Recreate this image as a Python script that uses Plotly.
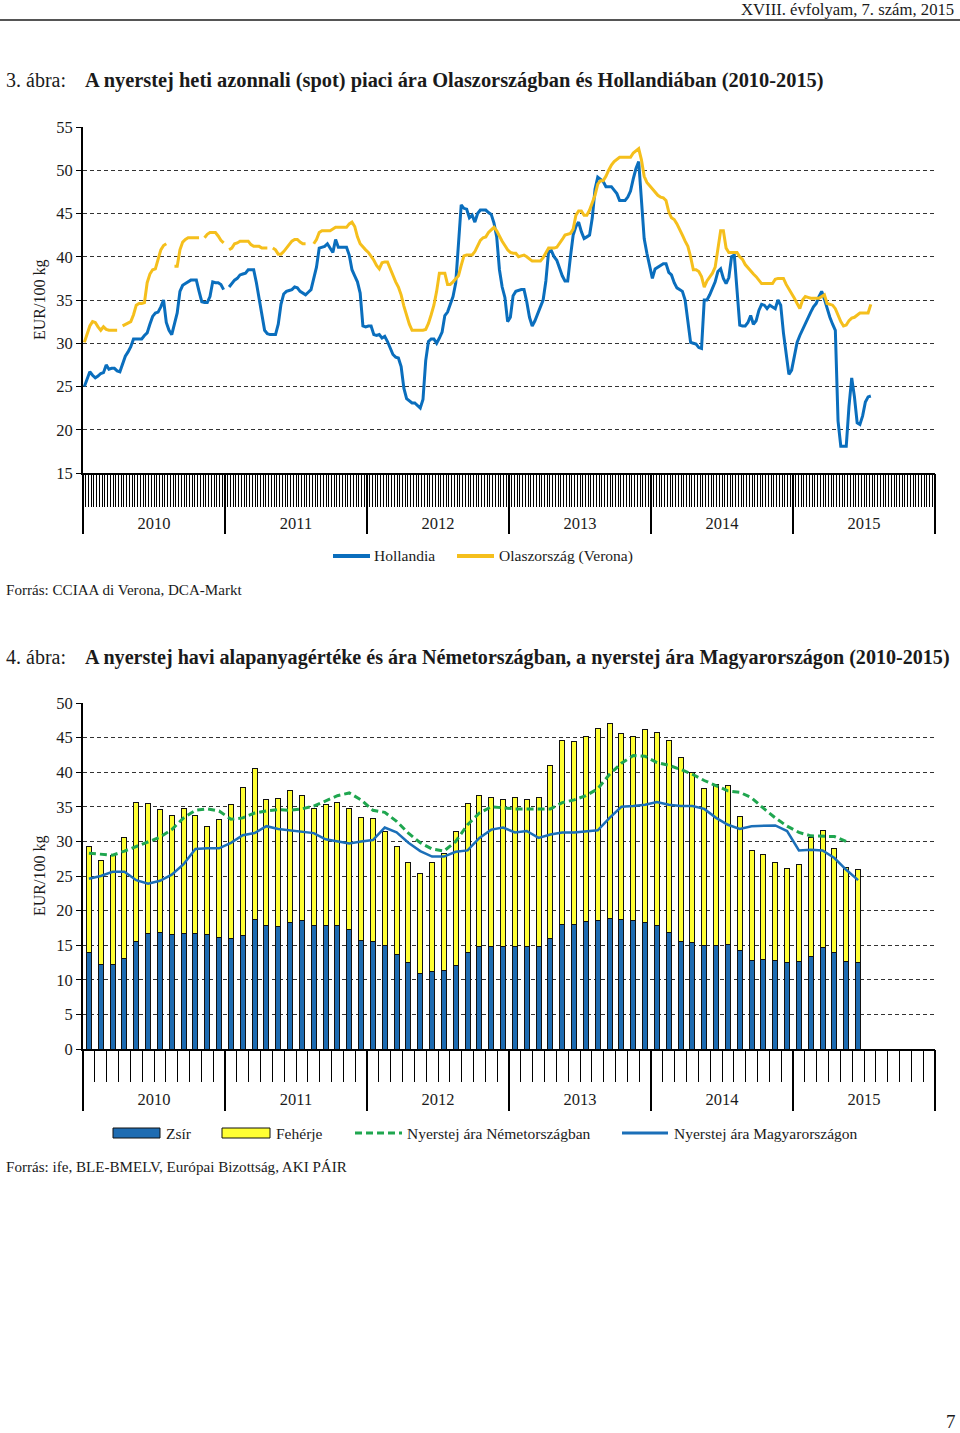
import plotly.graph_objects as go

W, H = 960, 1433


def px(x):
    return x / W


def py(y):
    return 1 - y / H


SERIF = "Liberation Serif"
TXT = "#1a1a1a"

# ---------------- Chart 1 data (weekly, 52 weeks per year) ----------------
years = ["2010", "2011", "2012", "2013", "2014", "2015"]
weeks_per_year = 52

hollandia = [
    25.0, 25.8, 26.7, 26.3, 26.0, 26.2, 26.5, 26.6, 27.5, 27.0,
    27.1, 27.1, 26.8, 26.7, 27.5, 28.5, 29.0, 29.6, 30.5, 30.5,
    30.5, 30.5, 30.9, 31.2, 32.2, 33.1, 33.5, 33.6, 34.2, 35.0,
    32.4, 31.5, 31.0, 32.2, 33.5, 36.0, 36.7, 36.9, 37.1, 37.3,
    37.3, 37.3, 36.0, 34.8, 34.7, 34.7, 35.4, 37.1, 37.0, 37.0,
    36.8, 36.2, None, 36.5, 36.9, 37.3, 37.5, 37.9, 38.0, 38.1,
    38.5, 38.5, 38.5, 37.0, 35.0, 33.1, 31.5, 31.1, 31.0, 31.0,
    31.0, 32.2, 34.5, 35.7, 36.0, 36.1, 36.2, 36.5, 36.4, 36.0,
    35.8, 35.6, 35.9, 36.2, 37.5, 38.8, 41.0, 41.1, 41.2, 41.5,
    41.0, 40.5, 42.0, 41.1, 41.1, 41.1, 41.1, 40.2, 38.5, 37.8,
    37.1, 35.8, 32.0, 31.9, 32.0, 32.0, 31.0, 30.9, 31.0, 30.6,
    30.8, 30.2, 29.4, 28.7, 28.4, 28.3, 27.3, 24.8, 23.6, 23.3,
    23.1, 23.1, 22.8, 22.5, 23.5, 28.0, 30.2, 30.5, 30.5, 30.0,
    30.6, 31.3, 33.2, 33.6, 34.5, 35.4, 37.0, 41.0, 46.0, 45.6,
    45.5, 44.5, 44.8, 44.0, 45.0, 45.4, 45.4, 45.4, 45.1, 44.9,
    43.9, 42.3, 38.5, 36.5, 35.3, 32.5, 33.0, 35.5, 36.0, 36.1,
    36.2, 36.2, 34.8, 33.0, 32.0, 32.6, 33.3, 34.2, 35.0, 37.2,
    40.6, 40.7, 40.0, 39.6, 38.7, 37.8, 37.2, 37.2, 40.0, 42.5,
    43.5, 44.0, 42.9, 42.1, 42.3, 42.5, 44.5, 47.8, 49.2, 48.9,
    48.7, 48.1, 48.1, 48.1, 47.7, 47.3, 46.5, 46.5, 46.5, 46.9,
    47.6, 49.0, 50.2, 51.0, 47.0, 42.1, 40.4, 38.8, 37.5, 38.6,
    38.8, 39.0, 39.2, 39.2, 38.2, 37.9, 37.0, 36.4, 36.2, 36.0,
    35.0, 32.5, 30.1, 30.0, 29.9, 29.5, 29.4, 35.0, 35.0, 35.6,
    36.4, 37.1, 38.3, 38.6, 37.5, 36.9, 37.6, 40.0, 40.2, 36.0,
    32.1, 32.0, 32.0, 32.4, 33.2, 32.2, 32.6, 33.8, 34.5, 34.4,
    34.0, 34.4, 34.2, 34.0, 35.0, 34.4, 31.2, 28.5, 26.4, 26.9,
    28.6, 30.1, 30.9, 31.6, 32.4, 33.1, 33.6, 34.2, 34.6, 35.4,
    36.0, 35.1, 34.0, 33.0, 32.2, 31.5, 21.0, 18.1, 18.1, 18.1,
    22.7, 26.0, 23.8, 20.8, 20.6, 21.6, 23.2, 23.8, 23.9,
]

olaszorszag = [
    30.1, 31.2, 32.0, 32.5, 32.4, 31.9, 31.5, 31.9, 31.6, 31.5,
    31.5, 31.5, 31.5, None, 32.0, 32.2, 32.4, 32.5, 33.3, 34.4,
    34.6, 34.6, 34.7, 37.0, 38.0, 38.5, 38.6, 39.6, 40.8, 41.3,
    41.5, None, None, 38.9, 38.9, 40.8, 41.7, 42.0, 42.2, 42.2,
    42.2, 42.2, 42.2, None, 42.2, 42.6, 42.8, 42.8, 42.8, 42.4,
    41.9, 41.6, None, 40.8, 41.0, 41.5, 41.6, 41.8, 41.8, 41.8,
    41.8, 41.4, 41.2, 41.2, 41.2, 41.0, 41.0, 41.0, None, 41.0,
    40.8, 40.3, 40.3, 40.6, 41.0, 41.4, 41.8, 42.0, 42.0, 41.7,
    41.5, 41.5, None, None, 41.5, 42.0, 42.8, 43.0, 43.0, 43.0,
    43.0, 43.2, 43.4, 43.4, 43.4, 43.4, 43.4, 43.8, 44.0, 43.5,
    42.3, 41.5, 41.1, 40.8, 40.5, 40.1, 39.6, 39.0, 38.6, 39.3,
    39.4, 39.4, 38.6, 37.8, 37.1, 36.5, 35.6, 34.3, 33.3, 32.2,
    31.5, 31.5, 31.5, 31.5, 31.5, 31.6, 32.3, 33.3, 34.4, 36.0,
    38.1, 38.1, 38.1, 36.8, 36.8, 37.1, 37.4, 37.8, 39.0, 40.1,
    40.2, 40.2, 40.2, 40.6, 41.2, 41.9, 42.2, 42.3, 42.8, 43.1,
    43.4, 43.0, 42.3, 41.8, 41.3, 40.8, 40.5, 40.4, 40.4, 40.0,
    40.1, 40.2, 40.0, 39.8, 39.5, 39.5, 39.5, 39.5, 39.9, 40.5,
    41.0, 41.0, 41.0, 41.1, 41.5, 42.0, 42.5, 42.6, 42.7, 43.2,
    44.8, 45.3, 45.3, 44.8, 44.8, 45.4, 46.3, 47.1, 48.4, 48.8,
    48.8, 49.3, 50.0, 50.6, 51.0, 51.3, 51.5, 51.5, 51.5, 51.5,
    51.5, 52.0, 52.3, 52.5, 51.2, 49.3, 48.6, 48.2, 47.9, 47.4,
    47.1, 46.9, 46.8, 46.5, 45.2, 44.5, 44.3, 43.8, 43.2, 42.5,
    41.8, 41.2, 40.0, 38.5, 38.5, 38.3, 37.7, 36.5, 37.2, 37.6,
    38.1, 38.8, 41.2, 43.0, 43.0, 41.0, 40.5, 40.5, 40.5, 40.5,
    40.0, 39.7, 39.1, 38.7, 38.3, 38.0, 37.7, 37.3, 36.9, 36.9,
    36.9, 36.9, 36.9, 37.4, 37.5, 37.5, 37.5, 36.8, 36.3, 35.7,
    35.2, 34.6, 34.0, 35.0, 35.4, 35.3, 35.2, 35.2, 35.2, 35.2,
    35.4, 35.6, 34.6, 34.5, 34.4, 34.0, 33.2, 32.5, 32.0, 32.1,
    32.6, 32.9, 33.0, 33.2, 33.5, 33.5, 33.5, 33.5, 34.5,
]

# ---------------- Chart 2 data (monthly, Jan 2010 - Jun 2015) ----------------
months_per_year = 12
zsir = [
    14.0, 12.2, 12.2, 13.1, 15.6, 16.7, 16.8, 16.6, 16.7, 16.7, 16.6, 16.1,
    16.0, 16.4, 18.7, 17.8, 17.7, 18.3, 18.5, 17.9, 17.9, 17.8, 17.3, 15.7,
    15.5, 15.0, 13.7, 12.5, 10.9, 11.2, 11.4, 12.1, 14.0, 14.8, 14.8, 14.8,
    14.8, 14.8, 14.8, 16.0, 18.0, 18.0, 18.4, 18.5, 18.8, 18.7, 18.6, 18.3,
    17.9, 16.8, 15.6, 15.4, 14.9, 14.9, 15.1, 14.3, 12.8, 12.9, 12.8, 12.5,
    12.6, 13.4, 14.7, 14.0, 12.7, 12.5,
]
feherje = [
    15.3, 15.1, 15.8, 17.5, 20.0, 18.8, 17.8, 17.2, 18.1, 17.1, 15.5, 17.1,
    19.3, 21.4, 21.8, 18.2, 18.5, 19.0, 18.1, 16.8, 17.4, 17.8, 17.5, 17.7,
    17.8, 16.5, 15.6, 14.4, 14.4, 15.8, 16.8, 19.3, 21.5, 21.9, 21.6, 21.2,
    21.6, 21.3, 21.5, 24.9, 26.6, 26.5, 26.7, 27.8, 28.3, 26.9, 26.6, 27.9,
    27.9, 27.8, 26.5, 24.6, 22.8, 23.3, 23.0, 19.3, 15.9, 15.2, 14.1, 13.6,
    14.0, 17.2, 16.9, 15.0, 13.6, 13.4,
]
nemetorszag = [
    28.3, 28.1, 28.0, 28.6, 29.3, 30.0, 30.6, 31.7, 33.4, 34.5, 34.7, 34.4,
    33.2, 33.4, 34.1, 34.4, 34.6, 34.5, 34.7, 35.1, 35.8, 36.6, 37.0, 36.0,
    34.5, 34.2, 32.9, 31.2, 29.8, 28.9, 28.6, 30.0, 32.4, 34.1, 35.0, 34.8,
    34.7, 34.7, 34.7, 34.7, 35.6, 36.0, 36.6, 37.6, 39.7, 41.3, 42.4, 42.3,
    41.4, 41.0, 40.4, 39.7, 38.8, 38.0, 37.3, 37.1, 36.3, 34.8, 33.4, 32.2,
    31.3, 30.8, 30.8, 30.7, 30.0,
]
magyarorszag = [
    24.6, 25.0, 25.6, 25.6, 24.4, 23.9, 24.3, 25.2, 26.7, 28.9, 29.0, 29.0,
    29.8, 30.9, 31.2, 32.2, 31.8, 31.6, 31.5, 31.2, 30.3, 30.0, 29.7, 30.0,
    30.2, 32.0, 31.3, 29.8, 28.6, 27.8, 27.8, 28.5, 28.7, 30.5, 31.7, 32.0,
    31.3, 31.5, 30.5, 31.0, 31.3, 31.3, 31.5, 31.6, 33.4, 35.0, 35.1, 35.3,
    35.7, 35.3, 35.1, 35.1, 34.7, 33.4, 32.4, 31.8, 32.2, 32.3, 32.3, 31.5,
    28.7, 28.8, 28.7, 27.6, 25.9, 24.4,
]

# ---------------- styles ----------------
C_HOL = "#0A6EBD"
C_ITA = "#F5BF1C"
C_ZSIR = "#1E6CB2"
C_FEH = "#FFFF33"
C_GER = "#1FA64F"
C_HUN = "#1B6FB8"
GER_DASH = "7px,4px"

fig = go.Figure()

fig.add_trace(go.Scatter(
    x=list(range(len(hollandia))), y=hollandia, mode="lines", name="Hollandia",
    line=dict(color=C_HOL, width=3), connectgaps=False, xaxis="x", yaxis="y"))
fig.add_trace(go.Scatter(
    x=list(range(len(olaszorszag))), y=olaszorszag, mode="lines", name="Olaszország (Verona)",
    line=dict(color=C_ITA, width=3), connectgaps=False, xaxis="x", yaxis="y"))

mo = list(range(len(zsir)))
fig.add_trace(go.Bar(
    x=mo, y=zsir, name="Zsír", marker=dict(color=C_ZSIR, line=dict(color="#111", width=1)),
    xaxis="x4", yaxis="y2"))
fig.add_trace(go.Bar(
    x=mo, y=feherje, name="Fehérje", marker=dict(color=C_FEH, line=dict(color="#111", width=1)),
    xaxis="x4", yaxis="y2"))
fig.add_trace(go.Scatter(
    x=list(range(len(nemetorszag))), y=nemetorszag, mode="lines",
    name="Nyerstej ára Németországban",
    line=dict(color=C_GER, width=3, dash=GER_DASH), xaxis="x4", yaxis="y2"))
fig.add_trace(go.Scatter(
    x=list(range(len(magyarorszag))), y=magyarorszag, mode="lines",
    name="Nyerstej ára Magyarországon",
    line=dict(color=C_HUN, width=2.5), xaxis="x4", yaxis="y2"))

# empty helper traces so that the overlaid year axes get drawn
for xa, ya in (("x2", "y"), ("x3", "y"), ("x5", "y2"), ("x6", "y2")):
    fig.add_trace(go.Scatter(x=[None], y=[None], mode="lines", xaxis=xa, yaxis=ya,
                             showlegend=False, hoverinfo="skip"))

nw = weeks_per_year * len(years)
nm = months_per_year * len(years)
xdom = [px(83), px(935)]
tickfont = dict(family=SERIF, size=16.5, color=TXT)


def cat_axes(n, per, anchor, overlay, minor_len, major_len, label_len):
    common = dict(domain=xdom, anchor=anchor, range=[-0.5, n - 0.5], showgrid=False,
                  zeroline=False, automargin=False, fixedrange=True)
    base = dict(common, tickmode="linear", tick0=-0.5, dtick=1, ticks="outside",
                ticklen=minor_len, tickwidth=1, tickcolor="black", showticklabels=False,
                showline=True, linecolor="black", linewidth=1.5)
    bounds = dict(common, overlaying=overlay, tickmode="array",
                  tickvals=[-0.5 + per * k for k in range(len(years) + 1)],
                  ticks="outside", ticklen=major_len, tickwidth=1.5, tickcolor="black",
                  showticklabels=False, showline=False)
    labels = dict(common, overlaying=overlay, tickmode="array",
                  tickvals=[per * k + (per - 1) / 2 for k in range(len(years))],
                  ticktext=years, ticks="outside", ticklen=label_len,
                  tickcolor="rgba(0,0,0,0)", tickfont=tickfont, showline=False)
    return base, bounds, labels


x1, x2, x3 = cat_axes(nw, weeks_per_year, "y", "x", 32, 60, 35)
x4, x5, x6 = cat_axes(nm, months_per_year, "y2", "x4", 31, 61, 35)

yax = dict(ticks="outside", ticklen=5, tickwidth=1, tickcolor="black", showline=True,
           linecolor="black", linewidth=2, showgrid=True, gridcolor="#333", gridwidth=1,
           griddash="4px,3px", zeroline=False, tickfont=tickfont, dtick=5,
           automargin=False, fixedrange=True)

# manual legends (swatch shapes + text)
shapes = [dict(type="line", xref="paper", yref="paper", x0=0, x1=1, y0=py(20), y1=py(20),
               line=dict(color="#555", width=2))]


def leg_line(x0, x1, y, color, width, dash="solid"):
    shapes.append(dict(type="line", xref="paper", yref="paper", x0=px(x0), x1=px(x1),
                       y0=py(y), y1=py(y), line=dict(color=color, width=width, dash=dash)))


def leg_box(x0, x1, y, color):
    shapes.append(dict(type="rect", xref="paper", yref="paper", x0=px(x0), x1=px(x1),
                       y0=py(y + 5), y1=py(y - 5), fillcolor=color,
                       line=dict(color="#111", width=1)))


leg_line(333, 370, 556, C_HOL, 4)
leg_line(457, 494, 556, C_ITA, 4)
leg_box(113, 160, 1133, C_ZSIR)
leg_box(222, 270, 1133, C_FEH)
leg_line(355, 402, 1133, C_GER, 3, GER_DASH)
leg_line(622, 668, 1133, C_HUN, 3)

ann = []


def text(x, y, s, size, anchor="left", angle=0):
    ann.append(dict(x=px(x), y=py(y), xref="paper", yref="paper", text=s, showarrow=False,
                    xanchor=anchor, yanchor="middle", textangle=angle,
                    font=dict(family=SERIF, size=size, color=TXT)))


text(956, 10, "XVIII. évfolyam, 7. szám, 2015", 16.7, anchor="right")
text(4, 80, "3. ábra:", 20)
text(83, 80, "<b>A nyerstej heti azonnali (spot) piaci ára Olaszországban és Hollandiában (2010-2015)</b>", 20.4)
text(40, 300, "EUR/100 kg", 16, anchor="center", angle=-90)
text(372, 556, "Hollandia", 15.5)
text(497, 556, "Olaszország (Verona)", 15.5)
text(4, 590, "Forrás: CCIAA di Verona, DCA-Markt", 15.1)
text(4, 657, "4. ábra:", 20)
text(83, 657, "<b>A nyerstej havi alapanyagértéke és ára Németországban, a nyerstej ára Magyarországon (2010-2015)</b>", 20.1)
text(40, 876, "EUR/100 kg", 16, anchor="center", angle=-90)
text(164, 1133, "Zsír", 15.5)
text(274, 1133, "Fehérje", 15.5)
text(405, 1133, "Nyerstej ára Németországban", 15.5)
text(672, 1133, "Nyerstej ára Magyarországon", 15.5)
text(4, 1167, "Forrás: ife, BLE-BMELV, Európai Bizottság, AKI PÁIR", 15.1)
text(951, 1421, "7", 19, anchor="center")

fig.update_layout(
    template="none",
    width=W, height=H, autosize=False, margin=dict(l=0, r=0, t=0, b=0, pad=0),
    paper_bgcolor="white", plot_bgcolor="white",
    font=dict(family=SERIF, color=TXT),
    showlegend=False,
    barmode="stack", bargap=0.58,
    xaxis=x1, xaxis2=x2, xaxis3=x3, xaxis4=x4, xaxis5=x5, xaxis6=x6,
    yaxis=dict(domain=[py(473), py(127)], anchor="x", range=[15, 55], tick0=15, **yax),
    yaxis2=dict(domain=[py(1049), py(703)], anchor="x4", range=[0, 50], tick0=0, **yax),
    shapes=shapes,
    annotations=ann,
)

fig.write_html("out.html", config={"responsive": False, "displayModeBar": False})
